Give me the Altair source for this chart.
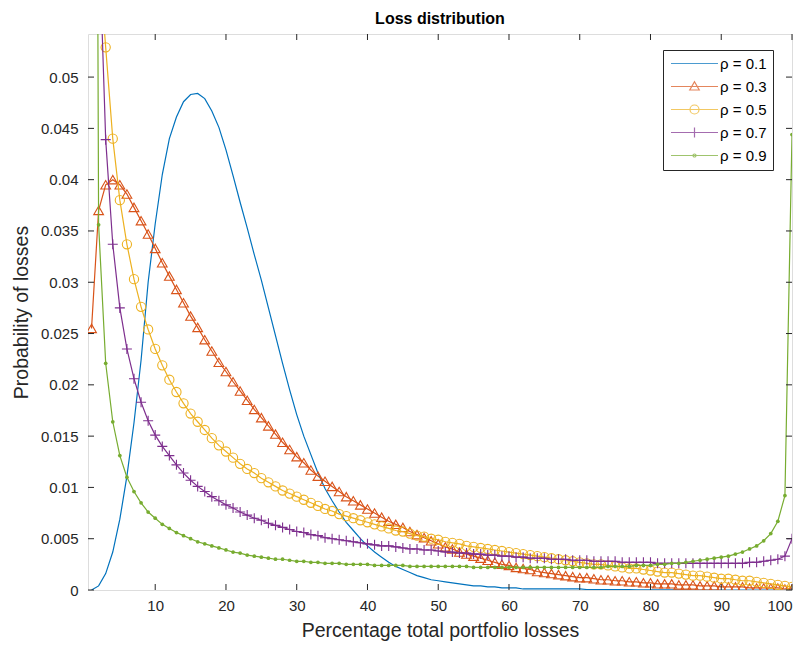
import altair as alt
import pandas as pd

# ---------------- data ----------------
x_pct = list(range(1, 101))
rho_labels = ["ρ = 0.1", "ρ = 0.3", "ρ = 0.5", "ρ = 0.7", "ρ = 0.9"]

p_rho01 = [
    0.0000, 0.0004, 0.0016, 0.0037, 0.0069, 0.0111, 0.0163, 0.0224, 0.0300, 0.0357,
    0.0405, 0.0440, 0.0461, 0.0476, 0.0483, 0.0484, 0.0479, 0.0467, 0.0451, 0.0429,
    0.0404, 0.0378, 0.0353, 0.0327, 0.0302, 0.0275, 0.0248, 0.0221, 0.0195, 0.0171,
    0.0150, 0.0132, 0.0114, 0.0099, 0.0087, 0.0076, 0.0066, 0.0058, 0.0050, 0.0043,
    0.0037, 0.0032, 0.0027, 0.0023, 0.0020, 0.0017, 0.0014, 0.0012, 0.0010, 0.0009,
    0.0008, 0.0007, 0.0006, 0.0005, 0.0004, 0.0004, 0.0003, 0.0003, 0.0002, 0.0002,
    0.0002, 0.0001, 0.0001, 0.0001, 0.0001, 0.0001, 0.0001, 0.0001, 0.0001, 0.0001,
    0.00005, 0.00005, 0.00004, 0.00004, 0.00003, 0.00003, 0.00003, 0.00002, 0.00002, 0.00002,
    0.00001, 0.00001, 0.00001, 0.00001, 0.00001, 0.0, 0.0, 0.0, 0.0, 0.0,
    0.0, 0.0, 0.0, 0.0, 0.0, 0.0, 0.0, 0.0, 0.0, 0.0,
]
p_rho03 = [
    0.0255, 0.0370, 0.0395, 0.0400, 0.0395, 0.0386, 0.0373, 0.0360, 0.0347, 0.0333,
    0.0319, 0.0306, 0.0293, 0.0280, 0.0267, 0.0256, 0.0244, 0.0233, 0.0222, 0.0213,
    0.0203, 0.0194, 0.0185, 0.0176, 0.0168, 0.0160, 0.0152, 0.0144, 0.0137, 0.0130,
    0.0124, 0.0117, 0.0111, 0.0106, 0.0101, 0.0096, 0.0091, 0.0087, 0.0083, 0.0079,
    0.0075, 0.0071, 0.0067, 0.0064, 0.0061, 0.0057, 0.0054, 0.0051, 0.0048, 0.0045,
    0.0042, 0.0040, 0.0037, 0.0035, 0.0033, 0.0031, 0.0029, 0.0027, 0.0025, 0.0024,
    0.0022, 0.0021, 0.0020, 0.0018, 0.0017, 0.0016, 0.0015, 0.0014, 0.0013, 0.0012,
    0.0012, 0.0011, 0.0010, 0.0010, 0.0009, 0.0009, 0.0008, 0.0008, 0.0007, 0.0007,
    0.0006, 0.0006, 0.0006, 0.0005, 0.0005, 0.0005, 0.0004, 0.0004, 0.0004, 0.0003,
    0.0003, 0.0003, 0.0003, 0.0002, 0.0002, 0.0002, 0.0002, 0.0002, 0.0001, 0.0001,
]
p_rho05 = [
    0.0900, 0.0620, 0.0529, 0.0440, 0.0380, 0.0337, 0.0303, 0.0276, 0.0254, 0.0235,
    0.0219, 0.0205, 0.0193, 0.0182, 0.0172, 0.0164, 0.0156, 0.0148, 0.0141, 0.0135,
    0.0129, 0.0123, 0.0118, 0.0114, 0.0109, 0.0105, 0.0101, 0.0097, 0.0094, 0.0091,
    0.0088, 0.0085, 0.0082, 0.0079, 0.0077, 0.0074, 0.0072, 0.0070, 0.0068, 0.0066,
    0.0064, 0.0062, 0.0060, 0.0058, 0.0057, 0.0055, 0.0053, 0.0052, 0.0050, 0.0049,
    0.0047, 0.0046, 0.0045, 0.0043, 0.0042, 0.0041, 0.0040, 0.0039, 0.0038, 0.0037,
    0.0036, 0.0035, 0.0034, 0.0033, 0.0032, 0.0031, 0.0030, 0.0029, 0.0028, 0.0027,
    0.0026, 0.0025, 0.0025, 0.0024, 0.0023, 0.0022, 0.0021, 0.0021, 0.0020, 0.0019,
    0.0018, 0.0017, 0.0017, 0.0016, 0.0015, 0.0014, 0.0014, 0.0013, 0.0012, 0.0011,
    0.0011, 0.0010, 0.0009, 0.0009, 0.0008, 0.0007, 0.0006, 0.0005, 0.0004, 0.0003,
]
p_rho07 = [
    0.1500, 0.0650, 0.0439, 0.0337, 0.0275, 0.0235, 0.0206, 0.0183, 0.0165, 0.0151,
    0.0140, 0.0131, 0.0122, 0.0114, 0.0107, 0.0101, 0.0096, 0.0091, 0.0087, 0.0083,
    0.0080, 0.0076, 0.0073, 0.0070, 0.0068, 0.0065, 0.0063, 0.0061, 0.0059, 0.0057,
    0.0056, 0.0054, 0.0053, 0.0051, 0.0050, 0.0049, 0.0048, 0.0047, 0.0046, 0.0045,
    0.0044, 0.0043, 0.0043, 0.0042, 0.0041, 0.0040, 0.0040, 0.0039, 0.0039, 0.0038,
    0.0037, 0.0037, 0.0036, 0.0036, 0.0035, 0.0035, 0.0034, 0.0034, 0.0033, 0.0033,
    0.0032, 0.0032, 0.0031, 0.0031, 0.0031, 0.0030, 0.0030, 0.0030, 0.0029, 0.0029,
    0.0029, 0.0028, 0.0028, 0.0028, 0.0028, 0.0027, 0.0027, 0.0027, 0.0027, 0.0027,
    0.0026, 0.0026, 0.0026, 0.0026, 0.0026, 0.0026, 0.0026, 0.0026, 0.0026, 0.0026,
    0.0026, 0.0026, 0.0026, 0.0027, 0.0027, 0.0028, 0.0029, 0.0030, 0.0033, 0.0050,
]
p_rho09 = [
    0.2200, 0.0356, 0.0221, 0.0164, 0.0131, 0.0110, 0.0096, 0.0085, 0.0076, 0.0070,
    0.0064, 0.0060, 0.0056, 0.0053, 0.0050, 0.0047, 0.0045, 0.0043, 0.0041, 0.0039,
    0.0037, 0.0036, 0.0034, 0.0033, 0.0032, 0.0031, 0.0030, 0.0030, 0.0029, 0.0028,
    0.0028, 0.0027, 0.0027, 0.0026, 0.0026, 0.0026, 0.0025, 0.0025, 0.0025, 0.0025,
    0.0024, 0.0024, 0.0024, 0.0024, 0.0024, 0.0023, 0.0023, 0.0023, 0.0023, 0.0023,
    0.0023, 0.0023, 0.0023, 0.0023, 0.0022, 0.0022, 0.0022, 0.0022, 0.0022, 0.0022,
    0.0022, 0.0022, 0.0022, 0.0022, 0.0022, 0.0022, 0.0022, 0.0022, 0.0022, 0.0022,
    0.0022, 0.0022, 0.0022, 0.0023, 0.0023, 0.0023, 0.0023, 0.0024, 0.0024, 0.0024,
    0.0025, 0.0025, 0.0026, 0.0026, 0.0027, 0.0028, 0.0029, 0.0030, 0.0031, 0.0032,
    0.0033, 0.0035, 0.0037, 0.0040, 0.0043, 0.0048, 0.0055, 0.0067, 0.0092, 0.0444,
]
series_values = [p_rho01, p_rho03, p_rho05, p_rho07, p_rho09]

x_ticks = [10, 20, 30, 40, 50, 60, 70, 80, 90, 100]
y_ticks = [0, 0.005, 0.01, 0.015, 0.02, 0.025, 0.03, 0.035, 0.04, 0.045, 0.05]

# ---------------- styling ----------------
colors = ["#0072BD", "#D95319", "#EDB120", "#7E2F8E", "#77AC30"]
AX = "#262626"
FONT = "Liberation Sans"
W, H = 704, 556

rows = []
for lab, vals in zip(rho_labels, series_values):
    for xv, yv in zip(x_pct, vals):
        rows.append({"x": xv, "p": yv, "rho": lab})
df = pd.DataFrame(rows)

xscale = alt.Scale(domain=[0.5, 100], nice=False, zero=False)
yscale = alt.Scale(domain=[0, 0.0542], nice=False, zero=False)

x_axis = alt.Axis(values=x_ticks, ticks=False, domain=False, grid=False,
                  labelFontSize=15, labelColor=AX, labelPadding=8, labelFont=FONT,
                  title="Percentage total portfolio losses", titleFontSize=19.5,
                  titleColor=AX, titleFontWeight="normal", titlePadding=8, titleFont=FONT)
y_axis = alt.Axis(values=y_ticks, ticks=False, domain=False, grid=False, format="~g",
                  labelFontSize=15, labelColor=AX, labelPadding=10, labelFont=FONT,
                  title="Probability of losses", titleFontSize=19.5,
                  titleColor=AX, titleFontWeight="normal", titlePadding=9, titleFont=FONT)


def xenc(field):
    return alt.X(field, type="quantitative", scale=xscale, axis=x_axis)


def yenc(field):
    return alt.Y(field, type="quantitative", scale=yscale, axis=y_axis)


layers = []
marker_specs = [
    None,
    dict(shape="triangle-up", filled=False, size=95),
    dict(shape="circle", filled=False, size=85),
    dict(shape="M-1,0H1M0,-1V1", filled=False, size=100),
    dict(shape="circle", filled=True, size=14),
]
for lab, col, spec in zip(rho_labels, colors, marker_specs):
    base = alt.Chart(df).transform_filter(alt.datum.rho == lab)
    layers.append(base.mark_line(color=col, strokeWidth=1.2, clip=True)
                  .encode(x=xenc("x"), y=yenc("p")))
    if spec is not None:
        layers.append(base.mark_point(color=col, strokeWidth=1.1, clip=True, opacity=1, **spec)
                      .encode(x=xenc("x"), y=yenc("p")))

# inward ticks on the four sides of the box
xt = pd.DataFrame({"t": x_ticks})
yt = pd.DataFrame({"t": y_ticks})
tick = dict(color=AX, strokeWidth=1)
layers.append(alt.Chart(xt).mark_rule(**tick).encode(x=xenc("t"), y=alt.value(H), y2=alt.value(H - 6)))
layers.append(alt.Chart(xt).mark_rule(**tick).encode(x=xenc("t"), y=alt.value(0), y2=alt.value(6)))
layers.append(alt.Chart(yt).mark_rule(**tick).encode(y=yenc("t"), x=alt.value(0), x2=alt.value(6)))
layers.append(alt.Chart(yt).mark_rule(**tick).encode(y=yenc("t"), x=alt.value(W), x2=alt.value(W - 6)))

# legend (line + marker symbols)
legend_paths = [
    "M-4.7,0H4.7",
    "M-4.7,0H4.7M0,-0.95L0.95,0.7L-0.95,0.7Z",
    "M-4.7,0H4.7M0.9,0A0.9,0.9,0,1,1,-0.9,0A0.9,0.9,0,1,1,0.9,0",
    "M-4.7,0H4.7M0,-1V1",
    "M-4.7,0H4.7M0.3,0A0.3,0.3,0,1,1,-0.3,0A0.3,0.3,0,1,1,0.3,0",
]
leg = alt.Legend(title=None, orient="none", legendX=575, legendY=16,
                 strokeColor=AX, fillColor="white", padding=6, cornerRadius=0,
                 symbolSize=100, symbolStrokeWidth=1.2, symbolOffset=18,
                 labelOffset=18, labelFontSize=15, labelColor="#000000", labelFont=FONT,
                 rowPadding=7, symbolType="circle")
layers.append(
    alt.Chart(pd.DataFrame({"rho": rho_labels}))
    .mark_point(filled=False, strokeWidth=1.2, clip=True)
    .encode(
        x=alt.value(-300), y=alt.value(-300),
        color=alt.Color("rho:N", scale=alt.Scale(domain=rho_labels, range=colors), legend=leg),
        shape=alt.Shape("rho:N", scale=alt.Scale(domain=rho_labels, range=legend_paths), legend=leg),
    )
)

chart = (
    alt.layer(*layers)
    .properties(
        width=W, height=H,
        title=alt.Title("Loss distribution", fontSize=16, fontWeight="bold", color="#000000",
                        anchor="middle", offset=7, font=FONT),
        autosize=alt.AutoSizeParams(type="none"),
        padding={"left": 88, "top": 34, "right": 14, "bottom": 57},
    )
    .configure_view(stroke=AX, strokeWidth=1)
    .configure(background="white", font=FONT)
)

chart.save("out.html", embed_options={"renderer": "svg", "actions": False})
